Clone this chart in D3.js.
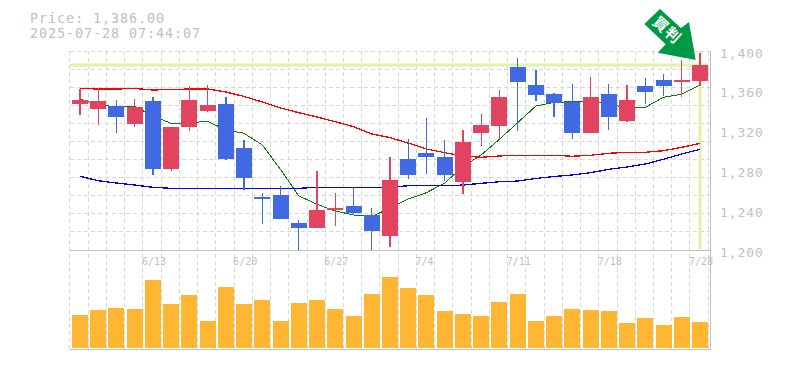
<!DOCTYPE html>
<html>
<head>
<meta charset="utf-8">
<script src="https://cdn.jsdelivr.net/npm/d3@7"></script>
<style>
  html, body { margin: 0; padding: 0; background: #fff; overflow: hidden; }
  text { font-family: "DejaVu Sans Mono", monospace; fill: #c0c0c0; }
</style>
</head>
<body>
<svg id="chart" width="785" height="370"></svg>
<script>
// Data
var dates = ["6/9","6/10","6/11","6/12","6/13","6/16","6/17","6/18","6/19","6/20","6/23","6/24","6/25","6/26","6/27","6/30","7/1","7/2","7/3","7/4","7/7","7/8","7/9","7/10","7/11","7/14","7/15","7/16","7/17","7/18","7/22","7/23","7/24","7/25","7/28"];
var open  = [1347,1342,1345,1327,1350,1281,1324,1340,1347,1303,1253,1255,1227,1222,1240,1244,1235,1214,1291,1297,1293,1268,1318,1325,1384,1366,1357,1349,1318,1357,1330,1365,1371,1369,1370];
var high  = [1362,1363,1351,1352,1354,1324,1365,1366,1354,1311,1257,1264,1230,1279,1257,1263,1242,1293,1312,1333,1311,1321,1337,1361,1393,1381,1358,1367,1374,1367,1366,1373,1377,1391,1398];
var low   = [1336,1326,1318,1324,1275,1279,1320,1339,1290,1260,1226,1231,1200,1222,1224,1235,1200,1203,1271,1276,1269,1256,1305,1312,1320,1350,1334,1312,1318,1321,1329,1347,1355,1354,1365];
var close = [1351,1350,1334,1344,1281,1324,1351,1346,1291,1272,1251,1231,1222,1240,1242,1237,1219,1270,1275,1293,1275,1309,1326,1354,1369,1356,1348,1318,1354,1334,1351,1359,1365,1371,1386];
var volume = [33,38,40,39,68,44,53,27,61,44,48,27,45,48,39,32,54,71,60,53,37,34,32,46,54,27,32,39,38,37,25,30,23,31,26];
var maShort = [1351.8,1345.7,1344,1344.4,1334.7,1327.3,1327.9,1329.3,1320.6,1317.3,1305.5,1280.9,1254.3,1245.9,1239.2,1235.2,1233.5,1242.2,1251.3,1257.6,1267.3,1283.7,1295.5,1311.3,1327.9,1344.7,1348.4,1349,1349.7,1346.7,1342.7,1343.4,1353.5,1356.5,1365.8];
var maMid = [1362.3,1361.8,1361.8,1362.3,1360.8,1361.3,1361.8,1361.8,1358.8,1354.3,1348.7,1342.7,1338,1333.7,1328.9,1323.9,1316.6,1312.9,1307.5,1301.5,1297.8,1294.5,1293.2,1294.5,1295.2,1295.2,1295.2,1294.2,1295.2,1297.2,1298.2,1298.2,1299.8,1303.2,1307.2];
var maLong = [1274.1,1269.6,1267.3,1265.3,1263,1262,1262,1262,1262,1262,1262,1262,1262,1263,1263,1263,1263,1263,1264.6,1264.6,1264.6,1265.3,1267,1268.6,1269.3,1271.9,1273.9,1275.4,1277.7,1281.1,1283.4,1286.4,1291.2,1296.5,1301.2];
var priceTicks = [1200,1240,1280,1320,1360,1400];
var dateTicks = ["6/13","6/20","6/27","7/4","7/11","7/18","7/28"];
var lastPrice = 1386;

var svg = d3.select("#chart");

var x = d3.scaleBand().domain(dates).range([70.88, 709.1]).paddingInner(0.1226).paddingOuter(0.0613);
var y = d3.scaleLinear().domain([1200, 1400]).range([250, 51]);
var yVol = d3.scaleLinear().domain([0, 98]).range([348, 250]);
var center = function (d) { return x(d) + x.bandwidth() / 2; };
var gridX = function (d) { return Math.floor(x(d) - 2) + 0.5; };

// Grid
var gridY = d3.range(0, 12).map(function (i) { return 1200 + i * 200 / 11; });
var grid = svg.append("g")
  .attr("stroke", "#d8d8d8")
  .attr("stroke-width", 1)
  .attr("stroke-dasharray", "4,3");
grid.selectAll(".gy").data(gridY).enter().append("line")
  .attr("x1", 70).attr("x2", 710)
  .attr("y1", function (d) { return Math.floor(y(d)) + 0.5; })
  .attr("y2", function (d) { return Math.floor(y(d)) + 0.5; });
grid.selectAll(".gx").data(dates).enter().append("line")
  .attr("x1", gridX).attr("x2", gridX)
  .attr("y1", 51).attr("y2", 350);
grid.append("line")
  .attr("x1", 708.5).attr("x2", 708.5)
  .attr("y1", 51).attr("y2", 350);

// Last price markers
svg.append("line")
  .attr("x1", 70).attr("x2", 709)
  .attr("y1", y(lastPrice)).attr("y2", y(lastPrice))
  .attr("stroke", "#e2f2a6").attr("stroke-width", 3);
svg.append("line")
  .attr("x1", center(dates[34])).attr("x2", center(dates[34]))
  .attr("y1", 52).attr("y2", 249)
  .attr("stroke", "#e2f2a6").attr("stroke-width", 3);

// Moving averages
var line = d3.line()
  .x(function (d, i) { return center(dates[i]); })
  .y(function (d) { return y(d); });
[[maShort, "#008000", 1], [maMid, "#ff0000", 1.3], [maLong, "#0000ff", 1.3]].forEach(function (s) {
  svg.append("path")
    .attr("d", line(s[0]))
    .attr("fill", "none")
    .attr("stroke", s[1])
    .attr("stroke-width", s[2])
    .attr("shape-rendering", "crispEdges");
});

// Candles
var candles = svg.selectAll(".candle").data(dates).enter().append("g").attr("class", "candle");
function candleColor(i) { return close[i] >= open[i] ? "#e2435f" : "#4169e1"; }
candles.append("line")
  .attr("x1", center)
  .attr("x2", center)
  .attr("y1", function (d, i) { return y(high[i]); })
  .attr("y2", function (d, i) { return y(low[i]); })
  .attr("stroke", function (d, i) { return candleColor(i); })
  .attr("stroke-width", 1.3)
  .attr("shape-rendering", "crispEdges");
candles.append("rect")
  .attr("x", function (d) { return x(d); })
  .attr("width", x.bandwidth())
  .attr("y", function (d, i) { return y(Math.max(open[i], close[i])); })
  .attr("height", function (d, i) { return Math.abs(y(open[i]) - y(close[i])); })
  .attr("fill", function (d, i) { return candleColor(i); })
  .attr("shape-rendering", "crispEdges");

// Volume
svg.selectAll(".vol").data(volume).enter().append("rect")
  .attr("class", "vol")
  .attr("x", function (d, i) { return x(dates[i]); })
  .attr("width", x.bandwidth())
  .attr("y", function (d) { return yVol(d); })
  .attr("height", function (d) { return yVol(0) - yVol(d); })
  .attr("fill", "#ffb733")
  .attr("shape-rendering", "crispEdges");

// Frame
var frame = svg.append("g").attr("stroke", "#c0c0c0").attr("stroke-width", 1);
frame.append("line").attr("x1", 70).attr("x2", 711).attr("y1", 250.5).attr("y2", 250.5);
frame.append("line").attr("x1", 70).attr("x2", 711).attr("y1", 349.5).attr("y2", 349.5);
frame.append("line").attr("x1", 710.5).attr("x2", 710.5).attr("y1", 51).attr("y2", 350);

// Axes
var yAxis = svg.append("g")
  .attr("transform", "translate(710,2)")
  .call(d3.axisRight(y).tickValues(priceTicks).tickFormat(d3.format(",")).tickSize(0).tickPadding(10));
yAxis.select(".domain").remove();
yAxis.selectAll("text")
  .style("font-family", "'DejaVu Sans Mono'")
  .style("font-size", "13px")
  .style("letter-spacing", "0.95px")
  .attr("fill", "#c0c0c0");

var xAxis = svg.append("g")
  .attr("transform", "translate(0,250)")
  .call(d3.axisBottom(x).tickValues(dateTicks).tickSize(0).tickPadding(8));
xAxis.select(".domain").remove();
xAxis.selectAll("text")
  .style("font-family", "'DejaVu Sans Mono'")
  .style("font-size", "10px")
  .style("text-anchor", "start")
  .attr("fill", "#c0c0c0")
  .attr("x", -11);

// Header
svg.append("text").attr("x", 30).attr("y", 22.5).style("font-size", "13.5px").style("letter-spacing", "0.87px").text("Price: 1,386.00");
svg.append("text").attr("x", 30).attr("y", 38).style("font-size", "13.5px").style("letter-spacing", "0.87px").text("2025-07-28 07:44:07");

// Arrow badge
svg.append("polygon")
  .attr("points", "660,9 681,28 689,22 695.7,60 657.7,52.7 665.7,44.3 644.3,24")
  .attr("fill", "#009944");
svg.append("text")
  .attr("transform", "translate(667,30) rotate(42)")
  .attr("text-anchor", "middle")
  .attr("dy", "0.35em")
  .style("font-family", "'Noto Sans CJK JP'")
  .style("font-size", "15px")
  .style("font-weight", "700")
  .style("letter-spacing", "1px")
  .style("fill", "#fff")
  .text("買判");
</script>
</body>
</html>
